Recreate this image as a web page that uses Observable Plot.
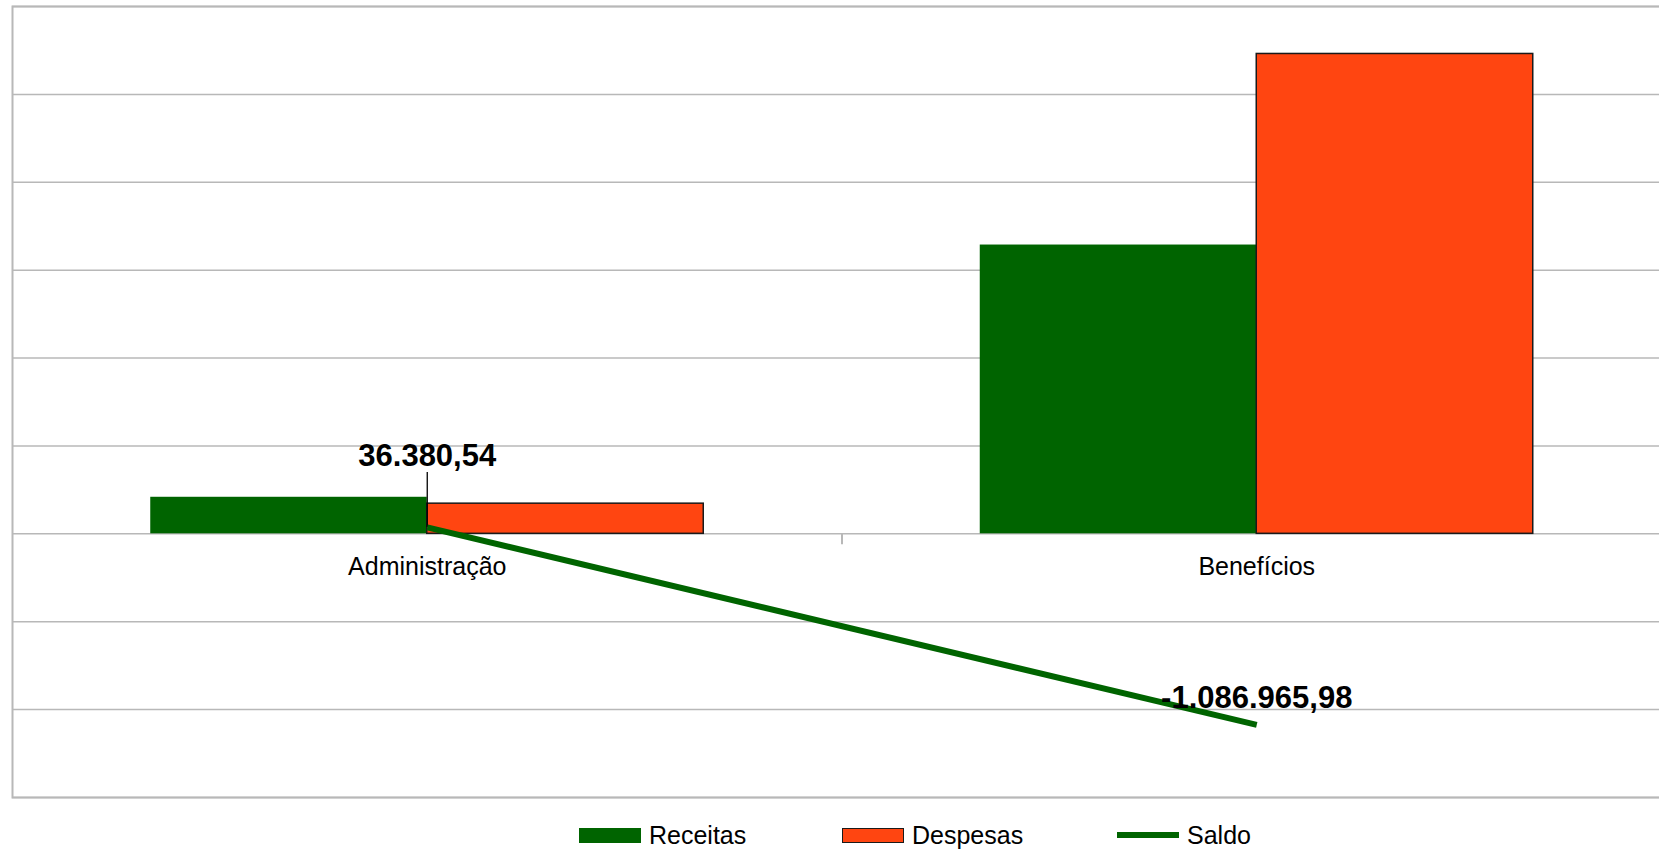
<!DOCTYPE html>
<html><head><meta charset="utf-8">
<script src="https://cdn.jsdelivr.net/npm/d3@7"></script>
<script src="https://cdn.jsdelivr.net/npm/@observablehq/plot@0.6"></script>
<style>
html,body{margin:0;padding:0;background:#fff;overflow:hidden;width:1659px;height:849px}
#chart{position:absolute;left:0;top:0;width:1690px}
#chart svg{max-width:none !important}
.legend{position:absolute;top:820px;left:0;font-family:"Liberation Sans",Arial,sans-serif;font-size:25px;color:#000}
.item{position:absolute;top:0;display:flex;align-items:center;height:30px;white-space:nowrap}
.sw{width:62px;height:15px;margin-right:8px;box-sizing:border-box}
.ln{width:62px;height:6px;margin-right:8px}
</style></head><body>
<div id="chart"></div><div class="legend" id="legend"></div>
<script>
const categories = ["Administração", "Benefícios"];
const receitas = [208000, 1643000];
const despesas = [171619.46, 2729965.98];
const saldo = [36380.54, -1086965.98];
const saldoLabels = ["36.380,54", "-1.086.965,98"];
const yTicks = [-1500000, -1000000, -500000, 0, 500000, 1000000, 1500000, 2000000, 2500000, 3000000];
const seriesNames = ["Receitas", "Despesas", "Saldo"];
const green = "#006400", orange = "#ff4511", grid = "#b8b8b8";

const barSpan = 1 / 3;
const recRows = categories.map((c, i) => ({i, value: receitas[i]}));
const despRows = categories.map((c, i) => ({i, value: despesas[i]}));
const saldoRows = categories.map((c, i) => ({i, value: saldo[i], label: saldoLabels[i]}));
const catRows = categories.map((c, i) => ({i, name: c}));

const chart = Plot.plot({
  width: 1690, height: 806,
  marginLeft: 12, marginRight: 19, marginTop: 6, marginBottom: 9,
  style: {fontFamily: "Liberation Sans, Arial, sans-serif", background: "#fff", maxWidth: "none"},
  x: {type: "linear", domain: [-0.5, 1.5], axis: null},
  y: {domain: [yTicks[0], yTicks[yTicks.length - 1]], axis: null},
  marks: [
    Plot.ruleY(yTicks, {stroke: grid, strokeWidth: 1.5}),
    Plot.ruleX([0.5], {x: d => d, y1: 0, y2: 0, insetBottom: -11, stroke: grid, strokeWidth: 2}),
    Plot.rect(recRows, {x1: d => d.i - barSpan, x2: d => d.i, y1: 0, y2: "value", fill: green}),
    Plot.rect(despRows, {x1: d => d.i, x2: d => d.i + barSpan, y1: 0, y2: "value", fill: orange, stroke: "#1a1a1a", strokeWidth: 1.5}),
    Plot.ruleX(saldoRows.slice(0, 1), {x: "i", y1: "value", y2: "value", insetTop: -55, stroke: "#000", strokeWidth: 1.3}),
    Plot.line(saldoRows, {x: "i", y: "value", stroke: green, strokeWidth: 6, strokeLinecap: "butt"}),
    Plot.text(catRows, {x: "i", y: 0, text: "name", dy: 33, fontSize: 25, fill: "#000"}),
    Plot.text(saldoRows.slice(0, 1), {x: "i", y: "value", text: "label", dy: -71, fontSize: 31, fontWeight: "bold", fill: "#000"}),
    Plot.text(saldoRows.slice(1), {x: "i", y: "value", text: "label", dy: -27, fontSize: 31, fontWeight: "bold", fill: "#000"}),
    Plot.frame({stroke: grid, strokeWidth: 2})
  ]
});
document.getElementById("chart").appendChild(chart);

const legend = document.getElementById("legend");
const legendLeft = [579, 842, 1117];
seriesNames.forEach((name, k) => {
  const item = document.createElement("div");
  item.className = "item";
  item.style.left = legendLeft[k] + "px";
  const sw = document.createElement("div");
  if (k === 2) { sw.className = "ln"; sw.style.background = green; }
  else {
    sw.className = "sw";
    sw.style.background = k === 0 ? green : orange;
    if (k === 1) sw.style.border = "1.5px solid #1a1a1a";
  }
  const t = document.createElement("span");
  t.textContent = name;
  item.appendChild(sw); item.appendChild(t);
  legend.appendChild(item);
});
</script>
</body></html>
